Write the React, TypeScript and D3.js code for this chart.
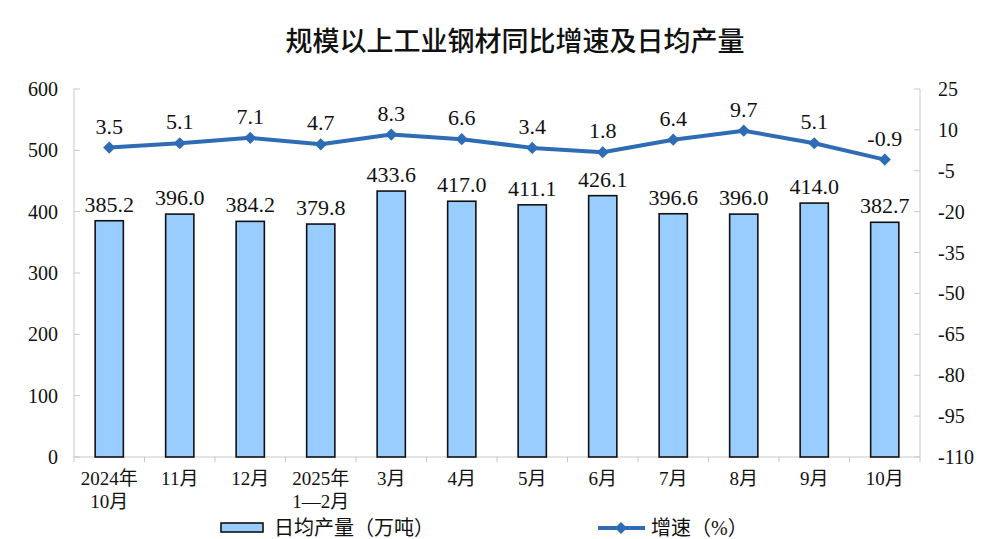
import { useEffect } from "react";
import * as d3 from "d3";

const categories = [
  ["2024年", "10月"],
  ["11月"],
  ["12月"],
  ["2025年", "1—2月"],
  ["3月"],
  ["4月"],
  ["5月"],
  ["6月"],
  ["7月"],
  ["8月"],
  ["9月"],
  ["10月"],
];
const output = [385.2, 396.0, 384.2, 379.8, 433.6, 417.0, 411.1, 426.1, 396.6, 396.0, 414.0, 382.7];
const growth = [3.5, 5.1, 7.1, 4.7, 8.3, 6.6, 3.4, 1.8, 6.4, 9.7, 5.1, -0.9];
const leftTicks = [0, 100, 200, 300, 400, 500, 600];
const rightTicks = [25, 10, -5, -20, -35, -50, -65, -80, -95, -110];

const W = 1004;
const H = 539;
const margin = { top: 89, right: 84, bottom: 82, left: 74 };
const serif = '"Liberation Serif", "Times New Roman", "Noto Sans CJK SC", serif';
const axisColor = "#c8c8c8";
const lineColor = "#2e6cb5";
const barFill = "#99ccff";

export default function App() {
  useEffect(() => {
    document.body.style.margin = "0";
  }, []);

  const innerW = W - margin.left - margin.right;
  const innerH = H - margin.top - margin.bottom;
  const idx = categories.map((_, i) => String(i));

  const x = d3.scaleBand().domain(idx).range([0, innerW]).paddingInner(0.6).paddingOuter(0.3);
  const xc = (i: number) => (x(String(i)) as number) + x.bandwidth() / 2;
  const step = innerW / categories.length;
  const yL = d3.scaleLinear().domain([0, 600]).range([innerH, 0]);
  const yR = d3.scaleLinear().domain([-110, 25]).range([innerH, 0]);

  const line = d3
    .line<number>()
    .x((_, i) => xc(i))
    .y((d) => yR(d));

  const diamond = d3.symbol().type(d3.symbolDiamond2).size(95)();

  return (
    <svg width={W} height={H} style={{ display: "block", background: "#fff" }}>
      <text
        x={515}
        y={51}
        textAnchor="middle"
        fontFamily='"Noto Sans CJK SC", sans-serif'
        fontWeight={500}
        fontSize={27}
        fill="#111"
      >
        规模以上工业钢材同比增速及日均产量
      </text>

      <g transform={`translate(${margin.left},${margin.top})`}>
        {/* axes */}
        <line x1={0} x2={0} y1={0} y2={innerH} stroke={axisColor} />
        <line x1={innerW} x2={innerW} y1={0} y2={innerH} stroke={axisColor} />
        <line x1={0} x2={innerW} y1={innerH} y2={innerH} stroke={axisColor} />

        {leftTicks.map((t) => (
          <g key={`l${t}`} transform={`translate(0,${yL(t)})`}>
            <line x1={0} x2={6} stroke={axisColor} />
            <text x={-16} dy="0.35em" textAnchor="end" fontFamily={serif} fontSize={20} fill="#111">
              {t}
            </text>
          </g>
        ))}
        {rightTicks.map((t) => (
          <g key={`r${t}`} transform={`translate(${innerW},${yR(t)})`}>
            <line x1={-6} x2={0} stroke={axisColor} />
            <text x={18} dy="0.35em" textAnchor="start" fontFamily={serif} fontSize={20} fill="#111">
              {t}
            </text>
          </g>
        ))}
        {d3.range(categories.length + 1).map((i) => (
          <line key={`xt${i}`} x1={i * step} x2={i * step} y1={innerH} y2={innerH + 5} stroke={axisColor} />
        ))}

        {/* bars */}
        {output.map((v, i) => (
          <g key={`b${i}`}>
            <rect
              x={x(String(i))}
              y={yL(v)}
              width={x.bandwidth()}
              height={innerH - yL(v)}
              fill={barFill}
              stroke="#111"
              strokeWidth={1.6}
            />
            <text x={xc(i)} y={yL(v) - 9} textAnchor="middle" fontFamily={serif} fontSize={22} fill="#111">
              {v.toFixed(1)}
            </text>
          </g>
        ))}

        {/* line */}
        <path d={line(growth) as string} fill="none" stroke={lineColor} strokeWidth={4} strokeLinejoin="round" />
        {growth.map((v, i) => (
          <g key={`p${i}`}>
            <path d={diamond as string} transform={`translate(${xc(i)},${yR(v)})`} fill={lineColor} />
            <text x={xc(i)} y={yR(v) - 14} textAnchor="middle" fontFamily={serif} fontSize={22} fill="#111">
              {v.toFixed(1)}
            </text>
          </g>
        ))}

        {/* x labels */}
        {categories.map((lines, i) => (
          <text key={`x${i}`} textAnchor="middle" fontFamily={serif} fontSize={19} fill="#111">
            {lines.map((s, j) => (
              <tspan key={j} x={xc(i)} y={innerH + 28 + j * 23}>
                {s}
              </tspan>
            ))}
          </text>
        ))}
      </g>

      {/* legend */}
      <rect x={221} y={523} width={42} height={9} fill={barFill} stroke="#111" strokeWidth={1.6} />
      <text x={274} y={535} fontFamily={serif} fontSize={20} fill="#111">
        日均产量（万吨）
      </text>
      <line x1={598} x2={645} y1={528} y2={528} stroke={lineColor} strokeWidth={4} />
      <path d={diamond as string} transform="translate(621,528)" fill={lineColor} />
      <text x={651} y={535} fontFamily={serif} fontSize={20} fill="#111">
        增速（%）
      </text>
    </svg>
  );
}
